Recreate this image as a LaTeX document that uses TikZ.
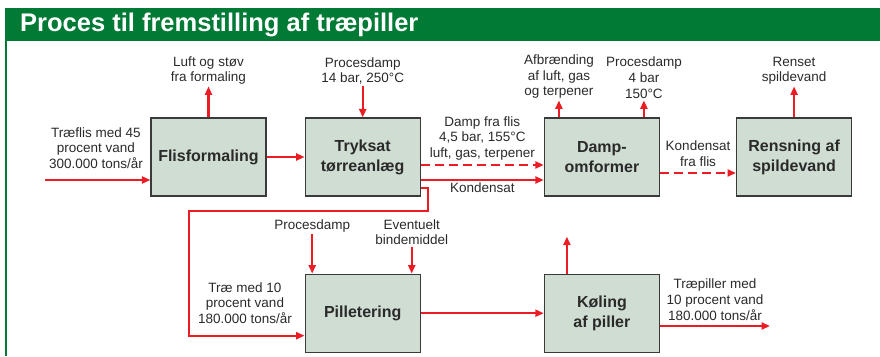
\documentclass[tikz,border=0pt]{standalone}
\usepackage{fontspec}
\setmainfont{Liberation Sans}
\usepackage{tikz}
\usetikzlibrary{arrows.meta,positioning}
\definecolor{tpgreen}{HTML}{017A35}
\definecolor{tpbox}{HTML}{CFDDD2}
\definecolor{tpline}{HTML}{3A3A3A}
\definecolor{tpred}{HTML}{EC1C24}
\definecolor{tptext}{HTML}{2A2A2A}

\begin{document}
\begin{tikzpicture}[
  x=1pt,y=1pt,
  node distance=31pt and 38pt,
  box/.style={draw=tpline,line width=1.2pt,fill=tpbox,minimum width=115pt,minimum height=78pt,align=center,
    font=\fontsize{16}{20}\selectfont\bfseries,text=tptext,inner sep=0pt},
  lbl/.style={align=center,font=\fontsize{13.5}{15.8}\selectfont,text=tptext,inner sep=1.5pt},
  arrow/.style={-{Triangle[length=8.5pt,width=7pt]},line width=2.2pt,color=tpred},
  dasharrow/.style={arrow,dash pattern=on 9pt off 5pt}
]
  \useasboundingbox (0,0) rectangle (880,-356);
  % frame
  \fill[tpgreen] (5,-8) rectangle (880,-41);
  \draw[tpgreen,line width=2pt] (6,-41) -- (6,-356);
  \node[anchor=west,text=white,font=\fontsize{25.5}{27}\selectfont\bfseries,inner sep=0pt] (titel) at (20,-25) {Proces til fremstilling af træpiller};

  % process boxes
  \node[box] (flis) at (208.5,-157) {Flisformaling};
  \node[box,right=of flis] (tryk) {Tryksat\\tørreanlæg};
  \node[box,right=123pt of tryk] (damp) {Damp-\\omformer};
  \node[box,right=76pt of damp] (rens) {Rensning af\\spildevand};
  \node[box,below=77pt of tryk] (pille) {Pilletering};
  \node[box,right=123pt of pille] (koel) {Køling\\af piller};

  % inputs and outputs
  \coordinate (indflis) at (45,-180);
  \node[lbl] (raa) at (96,-148) {Træflis med 45\\procent vand\\300.000 tons/år};
  \draw[arrow] (indflis) -- (indflis -| flis.west);
  \draw[arrow] (flis) -- (tryk);

  \node[lbl,above=of flis] (stoev) {Luft og støv\\fra formaling};
  \draw[arrow] (flis) -- (stoev);
  \node[lbl,above=of tryk] (damp14) {Procesdamp\\14 bar, 250°C};
  \draw[arrow] (damp14) -- (tryk);

  \draw[dasharrow] ([yshift=-8pt]tryk.east) -- ([yshift=-8pt]damp.west)
    node[lbl,midway,above,yshift=2pt] {Damp fra flis\\4,5 bar, 155°C\\luft, gas, terpener};
  \draw[arrow] ([yshift=-23pt]tryk.east) -- ([yshift=-23pt]damp.west)
    node[lbl,midway,below] {Kondensat};

  \node[lbl,anchor=south] (afbr) at ([shift={(-43,17)}]damp.north) {Afbrænding\\af luft, gas\\og terpener};
  \draw[arrow] (afbr.south |- damp.north) -- (afbr);
  \node[lbl,anchor=south] (damp4) at ([shift={(42,17)}]damp.north) {Procesdamp\\4 bar\\150°C};
  \draw[arrow] (damp4.south |- damp.north) -- (damp4);

  \draw[dasharrow] ([yshift=-16pt]damp.east) -- ([yshift=-16pt]rens.west)
    node[lbl,midway,above,yshift=4pt] {Kondensat\\fra flis};
  \node[lbl,above=of rens] (renset) {Renset\\spildevand};
  \draw[arrow] (rens) -- (renset);

  % down to pelleting
  \coordinate (knaek) at (189,-211);
  \draw[arrow] ([yshift=-31pt]tryk.east) -- ++(7,0) |- (knaek) |- ([yshift=-22.5pt]pille.west);
  \node[lbl] (trae10) at (245,-303) {Træ med 10\\procent vand\\180.000 tons/år};

  \node[lbl,anchor=north] (damp3) at ([shift={(-50.5,56)}]pille.north) {Procesdamp};
  \draw[arrow] (damp3) -- (damp3 |- pille.north);
  \node[lbl,anchor=north] (binde) at ([shift={(49,56)}]pille.north) {Eventuelt\\bindemiddel};
  \draw[arrow] (binde) -- (binde |- pille.north);

  \draw[arrow] (pille) -- (koel);
  \coordinate (koelop) at ([shift={(-35,37)}]koel.north);
  \draw[arrow] (koelop |- koel.north) -- (koelop);
  \coordinate (pilleud) at (770,-326);
  \draw[arrow] (pilleud -| koel.east) -- (pilleud)
    node[lbl,midway,above,yshift=3pt] {Træpiller med\\10 procent vand\\180.000 tons/år};
\end{tikzpicture}
\end{document}
